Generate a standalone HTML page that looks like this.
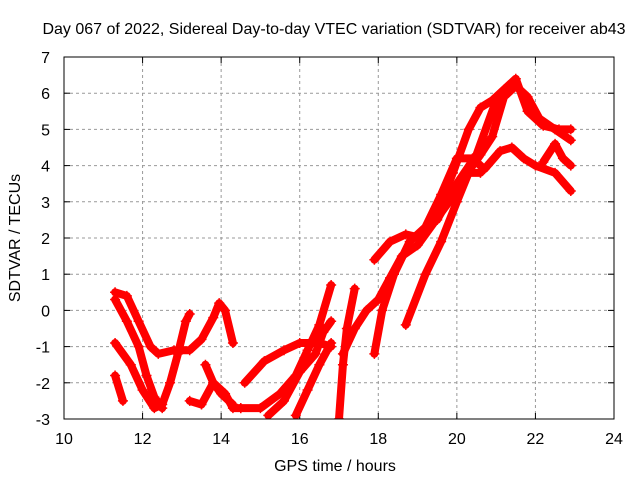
<!DOCTYPE html>
<html><head><meta charset="utf-8"><style>
body{margin:0;background:#fff}
svg{display:block;font-family:"Liberation Sans",sans-serif}
</style></head><body>
<svg id="chart" width="640" height="480">
<text x="334" y="34" text-anchor="middle" font-size="16">Day 067 of 2022, Sidereal Day-to-day VTEC variation (SDTVAR) for receiver ab43</text>
<text x="335" y="471" text-anchor="middle" font-size="16">GPS time / hours</text>
<text transform="translate(20,238) rotate(-90)" text-anchor="middle" font-size="16">SDTVAR / TECUs</text>
<g id="grid"></g><g id="ticks"></g>
<clipPath id="pc"><rect x="64" y="57" width="550" height="362"/></clipPath>
<g id="series" clip-path="url(#pc)"></g>
<rect x="64" y="57" width="550" height="362" fill="none" stroke="#000"/>
</svg>
<script>
const xTicks=[10,12,14,16,18,20,22,24];
const yTicks=[-3,-2,-1,0,1,2,3,4,5,6,7];
const trackA=[[11.3,0.5],[11.6,0.4],[11.9,-0.3],[12.2,-1.0],[12.4,-1.2],[12.8,-1.1],[13.2,-1.1],[13.5,-0.8],[13.8,-0.2],[13.95,0.2],[14.1,0],[14.3,-0.9]];
const trackB=[[11.3,-0.9],[11.7,-1.5],[12.0,-2.2],[12.3,-2.7],[12.5,-2.6],[12.7,-2.0],[12.9,-1.2],[13.1,-0.3],[13.2,-0.1]];
const trackC=[[11.3,0.3],[11.6,-0.3],[11.9,-1.0],[12.1,-1.8],[12.3,-2.4],[12.5,-2.7]];
const trackD=[[11.3,-1.8],[11.5,-2.5]];
const trackE=[[13.2,-2.5],[13.5,-2.6],[13.8,-2.0],[14.1,-2.3],[14.3,-2.7],[14.5,-2.7]];
const trackF=[[13.6,-1.5],[13.8,-2.0],[14.0,-2.3],[14.3,-2.6]];
const trackG=[[14.5,-2.7],[15.0,-2.7],[15.5,-2.3],[15.9,-1.8],[16.2,-1.1],[16.5,-0.4],[16.8,0.7]];
const trackH=[[14.6,-2.0],[15.1,-1.4],[15.6,-1.1],[16.0,-0.9],[16.5,-0.9],[16.8,-1.0]];
const trackI=[[15.2,-2.9],[15.6,-2.5],[16.0,-1.7],[16.4,-1.2],[16.6,-0.6],[16.8,-0.3]];
const trackJ=[[15.9,-2.9],[16.2,-2.2],[16.5,-1.5],[16.8,-0.9]];
const trackK=[[17.0,-3.0],[17.1,-1.5],[17.2,-0.5],[17.4,0.6]];
const trackL=[[17.1,-1.2],[17.4,-0.5],[17.7,0],[18.0,0.3],[18.3,0.9],[18.6,1.5],[19.0,1.8],[19.4,2.4],[19.8,3.0],[20.2,3.7],[20.6,4.3],[20.9,4.8],[21.2,5.9],[21.5,6.2],[21.8,5.9],[22.1,5.3],[22.5,5.0],[22.9,4.7]];
const trackM=[[17.9,1.4],[18.3,1.9],[18.7,2.1],[19.1,2.0],[19.5,2.7],[19.9,3.8],[20.3,5.0],[20.6,5.6],[20.9,5.8],[21.2,6.1],[21.5,6.4],[21.8,5.5],[22.2,5.1],[22.6,5.0],[22.9,5.0]];
const trackN=[[17.9,-1.2],[18.1,0],[18.4,1.0],[18.8,1.9],[19.2,2.3],[19.6,3.2],[20.0,4.2],[20.4,4.2],[20.7,3.9],[21.1,4.4],[21.4,4.5],[21.7,4.2],[22.0,4.0],[22.5,3.8],[22.9,3.3]];
const trackO=[[18.7,-0.4],[19.2,1.0],[19.6,1.9],[20.0,3.0],[20.3,3.8],[20.6,3.8]];
const trackP=[[22.2,4.1],[22.5,4.6],[22.7,4.2],[22.9,4.0]];
const trackQ=[[19.5,2.5],[20.0,3.5],[20.5,4.3],[21.0,5.8],[21.4,6.2]];
const tracks=[trackA,trackB,trackC,trackD,trackE,trackF,trackG,trackH,trackI,trackJ,trackK,trackL,trackM,trackN,trackO,trackP,trackQ];
const NS="http://www.w3.org/2000/svg";
const X=t=>64+(t-10)*550/14, Y=v=>419-(v+3)*362/10;
const grid=document.getElementById('grid'),ticks=document.getElementById('ticks'),ser=document.getElementById('series');
function mk(tag,a,p){const e=document.createElementNS(NS,tag);for(const k in a)e.setAttribute(k,a[k]);p.appendChild(e);return e;}
xTicks.forEach(t=>{
 if(t>10&&t<24){const g=mk('line',{x1:X(t),x2:X(t),y1:57,y2:419,stroke:'#999','stroke-dasharray':'3,3'},grid);
 
 }
 mk('line',{x1:X(t),x2:X(t),y1:419,y2:413,stroke:'#000'},ticks);mk('line',{x1:X(t),x2:X(t),y1:57,y2:63,stroke:'#000'},ticks);
 const l=mk('text',{x:X(t),y:444,'text-anchor':'middle','font-size':16},ticks);l.textContent=t;
 
 
});
yTicks.forEach(v=>{
 if(v>-3&&v<7){const g=mk('line',{x1:64,x2:614,y1:Y(v),y2:Y(v),stroke:'#999','stroke-dasharray':'3,3'},grid);
 
 }
 mk('line',{x1:64,x2:70,y1:Y(v),y2:Y(v),stroke:'#000'},ticks);mk('line',{x1:614,x2:608,y1:Y(v),y2:Y(v),stroke:'#000'},ticks);
 const l=mk('text',{x:50,y:Y(v)+6,'text-anchor':'end','font-size':16},ticks);l.textContent=v;
 
 
});
tracks.forEach((tr,i)=>{
 const pl=mk('polyline',{points:tr.map(p=>X(p[0])+','+Y(p[1])).join(' '),fill:'none',stroke:'#f00','stroke-width':8,'stroke-linejoin':'round','stroke-linecap':'round'},ser);
 
 
 tr.forEach(p=>{const x=X(p[0]),y=Y(p[1]);
  const m=mk('path',{d:`M${x-5},${y}H${x+5}M${x},${y-5}V${y+5}`,stroke:'#f00','stroke-width':1.5},ser);
  
  
 });
});
</script>
</body></html>
